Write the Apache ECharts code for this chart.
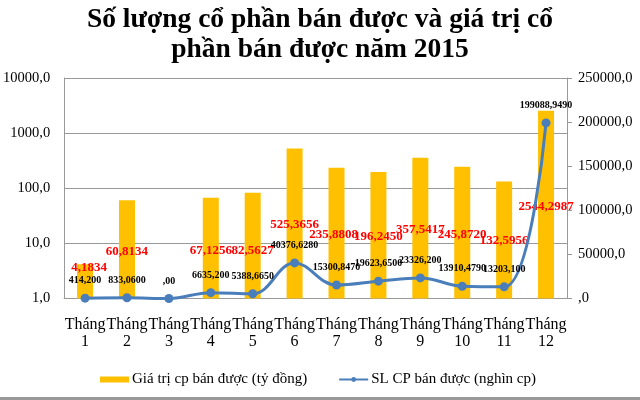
<!DOCTYPE html>
<html><head><meta charset="utf-8">
<script src="https://cdn.jsdelivr.net/npm/echarts@6/dist/echarts.min.js"></script>
<style>html,body{margin:0;padding:0;background:#fff}#c{width:640px;height:400px}</style>
</head><body><div id="c"></div>
<script>
const months = ['Tháng\n1','Tháng\n2','Tháng\n3','Tháng\n4','Tháng\n5','Tháng\n6','Tháng\n7','Tháng\n8','Tháng\n9','Tháng\n10','Tháng\n11','Tháng\n12'];
const barValues = [4.1834, 60.8134, null, 67.1256, 82.5627, 525.3656, 235.8808, 196.2450, 357.5417, 245.8720, 132.5956, 2544.2987];
const barLabels = ['4,1834','60,8134','','67,1256','82,5627','525,3656','235,8808','196,2450','357,5417','245,8720','132,5956','2544,2987'];
const lineValues = [414.2, 833.06, 0, 6635.2, 5388.665, 40376.628, 15300.847, 19623.65, 23326.2, 13910.479, 13203.1, 199088.949];
const lineLabels = ['414,200','833,0600',',00','6635,200','5388,6650','40376,6280','15300,8470','19623,6500','23326,200','13910,4790','13203,100','199088,9490'];
const leftTicks = [1, 10, 100, 1000, 10000];
const rightTicks = [0, 50000, 100000, 150000, 200000, 250000];

// label placement (styling, not data)
const barLabelOffsets = [[4,10],[0,58],[0,0],[0,59],[0,64],[0,83],[-3,73],[0,71],[0,78],[0,74],[0,66],[0,102]];

const serif = '"Liberation Serif","DejaVu Serif",serif';
const fmt1 = v => v === 0 ? ',0' : v.toFixed(1).replace('.', ',');

const chart = echarts.init(document.getElementById('c'));
chart.setOption({
  animation: false,
  title: {
    text: 'Số lượng cổ phần bán được và giá trị cổ\nphần bán được năm 2015',
    left: 'center', top: 0,
    textStyle: {fontFamily: serif, fontWeight: 'bold', fontSize: 27.5, lineHeight: 30, color: '#000'}
  },
  grid: {left: 62, right: 73, top: 78, bottom: 101.5},
  legend: {
    top: 372, left: 100, padding: 0, itemGap: 31, itemWidth: 29, itemHeight: 6,
    textStyle: {fontFamily: serif, fontSize: 15, color: '#000', padding: [0, 0, 0, -2]},
    data: [
      {name: 'Giá trị cp bán được (tỷ đồng)', icon: 'rect'},
      {name: 'SL CP bán được (nghìn cp)'}
    ]
  },
  xAxis: {
    type: 'category', data: months,
    axisTick: {show: false},
    axisLine: {lineStyle: {color: '#999'}},
    axisLabel: {fontFamily: serif, fontSize: 16, color: '#000', lineHeight: 17, margin: 18, interval: 0}
  },
  yAxis: [
    {
      type: 'log', logBase: 10, min: leftTicks[0], max: leftTicks[leftTicks.length-1],
      axisLine: {show: true, lineStyle: {color: '#999'}},
      axisTick: {show: false},
      splitLine: {lineStyle: {color: '#999', width: 1}},
      axisLabel: {fontFamily: serif, fontSize: 14.5, color: '#000', margin: 14, formatter: fmt1}
    },
    {
      type: 'value', min: rightTicks[0], max: rightTicks[rightTicks.length-1], interval: 50000,
      axisLine: {show: true, lineStyle: {color: '#999'}},
      axisTick: {show: true, length: 5, inside: false, lineStyle: {color: '#999'}},
      splitLine: {show: false},
      axisLabel: {fontFamily: serif, fontSize: 14.5, color: '#000', margin: 11, formatter: fmt1}
    }
  ],
  series: [
    {
      name: 'Giá trị cp bán được (tỷ đồng)', type: 'bar', yAxisIndex: 0,
      barWidth: 16,
      itemStyle: {color: '#FFC000'},
      data: barValues.map((v, i) => ({
        value: v === null ? '-' : v,
        label: {
          show: v !== null, position: 'top', distance: 0,
          offset: barLabelOffsets[i],
          formatter: () => barLabels[i],
          fontFamily: serif, fontWeight: 'bold', fontSize: 13, color: '#FF0000'
        }
      }))
    },
    {
      name: 'SL CP bán được (nghìn cp)', type: 'line', yAxisIndex: 1,
      smooth: 0.4, symbol: 'circle', symbolSize: 9,
      lineStyle: {color: '#4A7EBB', width: 3},
      itemStyle: {color: '#4A7EBB'},
      z: 5,
      label: {
        show: true, position: 'top', distance: 8,
        formatter: p => lineLabels[p.dataIndex],
        fontFamily: serif, fontWeight: 'bold', fontSize: 10, color: '#000'
      },
      data: lineValues
    }
  ],
  graphic: [{type: 'rect', shape: {x: 0, y: 397, width: 640, height: 3}, style: {fill: '#999'}, silent: true}]
});
</script></body></html>
